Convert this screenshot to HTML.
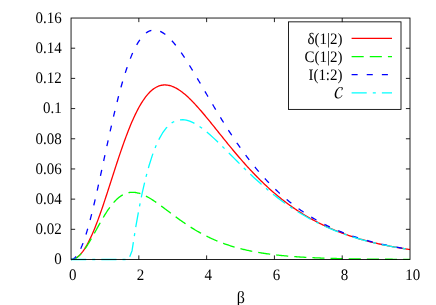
<!DOCTYPE html>
<html><head><meta charset="utf-8"><title>plot</title>
<style>
html,body{margin:0;padding:0;background:#fff;}
body{width:436px;height:305px;position:relative;overflow:hidden;font-family:"Liberation Serif",serif;}
.t text{font-family:"Liberation Serif",serif;text-rendering:geometricPrecision;}
svg{will-change:transform;}
</style></head><body>
<svg width="436" height="305" viewBox="0 0 436 305" style="position:absolute;left:0;top:0">
<g fill="none" stroke-width="1.3" stroke-linejoin="round">
<path d="M71.05,259.50 L71.90,259.46 L72.74,259.33 L73.59,259.12 L74.44,258.82 L75.29,258.44 L76.13,257.97 L76.98,257.42 L77.83,256.79 L78.68,256.08 L79.52,255.28 L80.37,254.40 L81.22,253.44 L82.07,252.40 L82.91,251.28 L83.76,250.09 L84.61,248.82 L85.46,247.47 L86.30,246.05 L87.15,244.56 L88.00,242.99 L88.84,241.36 L89.69,239.66 L90.54,237.89 L91.39,236.06 L92.23,234.17 L93.08,232.21 L93.93,230.20 L94.78,228.14 L95.62,226.02 L96.47,223.84 L97.32,221.62 L98.17,219.36 L99.01,217.05 L99.86,214.69 L100.71,212.30 L101.56,209.88 L102.40,207.42 L103.25,204.93 L104.10,202.41 L104.94,199.87 L105.79,197.31 L106.64,194.72 L107.49,192.13 L108.33,189.51 L109.18,186.89 L110.03,184.26 L110.88,181.63 L111.72,178.99 L112.57,176.36 L113.42,173.72 L114.27,171.10 L115.11,168.48 L115.96,165.88 L116.81,163.29 L117.66,160.71 L118.50,158.16 L119.35,155.62 L120.20,153.12 L121.05,150.63 L121.89,148.18 L122.74,145.75 L123.59,143.36 L124.43,141.00 L125.28,138.68 L126.13,136.39 L126.98,134.15 L127.82,131.94 L128.67,129.78 L129.52,127.66 L130.37,125.59 L131.21,123.56 L132.06,121.58 L132.91,119.65 L133.76,117.77 L134.60,115.93 L135.45,114.15 L136.30,112.42 L137.15,110.75 L137.99,109.12 L138.84,107.55 L139.69,106.04 L140.53,104.57 L141.38,103.17 L142.23,101.81 L143.08,100.51 L143.92,99.27 L144.77,98.08 L145.62,96.94 L146.47,95.86 L147.31,94.84 L148.16,93.86 L149.01,92.94 L149.86,92.08 L150.70,91.26 L151.55,90.50 L152.40,89.79 L153.25,89.13 L154.09,88.53 L154.94,87.97 L155.79,87.46 L156.63,87.00 L157.48,86.59 L158.33,86.23 L159.18,85.92 L160.02,85.65 L160.87,85.42 L161.72,85.24 L162.57,85.11 L163.41,85.01 L164.26,84.96 L165.11,84.95 L165.96,84.98 L166.80,85.05 L167.65,85.16 L168.50,85.31 L169.35,85.49 L170.19,85.71 L171.04,85.96 L171.89,86.25 L172.73,86.58 L173.58,86.93 L174.43,87.32 L175.28,87.73 L176.12,88.18 L176.97,88.66 L177.82,89.16 L178.67,89.69 L179.51,90.25 L180.36,90.83 L181.21,91.44 L182.06,92.07 L182.90,92.73 L183.75,93.41 L184.60,94.10 L185.45,94.82 L186.29,95.56 L187.14,96.32 L187.99,97.10 L188.84,97.90 L189.68,98.71 L190.53,99.54 L191.38,100.39 L192.22,101.25 L193.07,102.12 L193.92,103.01 L194.77,103.91 L195.61,104.82 L196.46,105.75 L197.31,106.69 L198.16,107.63 L199.00,108.59 L199.85,109.56 L200.70,110.53 L201.55,111.52 L202.39,112.51 L203.24,113.51 L204.09,114.51 L204.94,115.53 L205.78,116.55 L206.63,117.57 L207.48,118.60 L208.32,119.63 L209.17,120.67 L210.02,121.71 L210.87,122.75 L211.71,123.80 L212.56,124.85 L213.41,125.90 L214.26,126.96 L215.10,128.01 L215.95,129.07 L216.80,130.12 L217.65,131.18 L218.49,132.24 L219.34,133.29 L220.19,134.35 L221.04,135.40 L221.88,136.46 L222.73,137.51 L223.58,138.56 L224.42,139.61 L225.27,140.66 L226.12,141.71 L226.97,142.75 L227.81,143.79 L228.66,144.83 L229.51,145.86 L230.36,146.89 L231.20,147.92 L232.05,148.94 L232.90,149.96 L233.75,150.98 L234.59,151.99 L235.44,152.99 L236.29,154.00 L237.14,154.99 L237.98,155.99 L238.83,156.98 L239.68,157.96 L240.52,158.94 L241.37,159.91 L242.22,160.88 L243.07,161.84 L243.91,162.80 L244.76,163.75 L245.61,164.69 L246.46,165.63 L247.30,166.57 L248.15,167.50 L249.00,168.42 L249.85,169.33 L250.69,170.24 L251.54,171.15 L252.39,172.04 L253.24,172.94 L254.08,173.82 L254.93,174.70 L255.78,175.57 L256.63,176.44 L257.47,177.30 L258.32,178.15 L259.17,179.00 L260.01,179.84 L260.86,180.67 L261.71,181.50 L262.56,182.32 L263.40,183.14 L264.25,183.94 L265.10,184.74 L265.95,185.54 L266.79,186.33 L267.64,187.11 L268.49,187.88 L269.34,188.65 L270.18,189.41 L271.03,190.17 L271.88,190.92 L272.73,191.66 L273.57,192.39 L274.42,193.12 L275.27,193.85 L276.11,194.56 L276.96,195.27 L277.81,195.98 L278.66,196.67 L279.50,197.36 L280.35,198.05 L281.20,198.72 L282.05,199.40 L282.89,200.06 L283.74,200.72 L284.59,201.37 L285.44,202.02 L286.28,202.66 L287.13,203.29 L287.98,203.92 L288.83,204.54 L289.67,205.16 L290.52,205.77 L291.37,206.37 L292.21,206.97 L293.06,207.56 L293.91,208.15 L294.76,208.73 L295.60,209.30 L296.45,209.87 L297.30,210.44 L298.15,210.99 L298.99,211.54 L299.84,212.09 L300.69,212.63 L301.54,213.17 L302.38,213.70 L303.23,214.22 L304.08,214.74 L304.93,215.25 L305.77,215.76 L306.62,216.26 L307.47,216.76 L308.31,217.25 L309.16,217.74 L310.01,218.22 L310.86,218.70 L311.70,219.17 L312.55,219.64 L313.40,220.10 L314.25,220.55 L315.09,221.01 L315.94,221.45 L316.79,221.90 L317.64,222.33 L318.48,222.77 L319.33,223.19 L320.18,223.62 L321.03,224.04 L321.87,224.45 L322.72,224.86 L323.57,225.27 L324.42,225.67 L325.26,226.06 L326.11,226.46 L326.96,226.84 L327.80,227.23 L328.65,227.61 L329.50,227.98 L330.35,228.35 L331.19,228.72 L332.04,229.08 L332.89,229.44 L333.74,229.80 L334.58,230.15 L335.43,230.49 L336.28,230.84 L337.13,231.18 L337.97,231.51 L338.82,231.84 L339.67,232.17 L340.52,232.49 L341.36,232.82 L342.21,233.13 L343.06,233.45 L343.90,233.76 L344.75,234.06 L345.60,234.36 L346.45,234.66 L347.29,234.96 L348.14,235.25 L348.99,235.54 L349.84,235.83 L350.68,236.11 L351.53,236.39 L352.38,236.67 L353.23,236.94 L354.07,237.21 L354.92,237.47 L355.77,237.74 L356.62,238.00 L357.46,238.26 L358.31,238.51 L359.16,238.76 L360.00,239.01 L360.85,239.26 L361.70,239.50 L362.55,239.74 L363.39,239.98 L364.24,240.21 L365.09,240.45 L365.94,240.67 L366.78,240.90 L367.63,241.13 L368.48,241.35 L369.33,241.57 L370.17,241.78 L371.02,242.00 L371.87,242.21 L372.72,242.42 L373.56,242.62 L374.41,242.83 L375.26,243.03 L376.10,243.23 L376.95,243.42 L377.80,243.62 L378.65,243.81 L379.49,244.00 L380.34,244.19 L381.19,244.37 L382.04,244.56 L382.88,244.74 L383.73,244.92 L384.58,245.09 L385.43,245.27 L386.27,245.44 L387.12,245.61 L387.97,245.78 L388.82,245.95 L389.66,246.11 L390.51,246.27 L391.36,246.43 L392.21,246.59 L393.05,246.75 L393.90,246.90 L394.75,247.06 L395.59,247.21 L396.44,247.36 L397.29,247.51 L398.14,247.65 L398.98,247.80 L399.83,247.94 L400.68,248.08 L401.53,248.22 L402.37,248.36 L403.22,248.49 L404.07,248.63 L404.92,248.76 L405.76,248.89 L406.61,249.02 L407.46,249.15 L408.31,249.27 L409.15,249.40 L410.00,249.52" stroke="#ff0000"/>
<path d="M71.05,259.50 L71.90,259.46 L72.74,259.33 L73.59,259.12 L74.44,258.82 L75.29,258.44 L76.13,257.98 L76.98,257.44 L77.83,256.83 L78.68,256.13 L79.52,255.36 L80.37,254.52 L81.22,253.62 L82.07,252.64 L82.91,251.61 L83.76,250.51 L84.61,249.36 L85.46,248.15 L86.30,246.90 L87.15,245.60 L88.00,244.26 L88.84,242.88 L89.69,241.47 L90.54,240.03 L91.39,238.56 L92.23,237.08 L93.08,235.57 L93.93,234.05 L94.78,232.52 L95.62,230.99 L96.47,229.45 L97.32,227.91 L98.17,226.38 L99.01,224.85 L99.86,223.34 L100.71,221.84 L101.56,220.36 L102.40,218.90 L103.25,217.47 L104.10,216.06 L104.94,214.67 L105.79,213.32 L106.64,212.00 L107.49,210.72 L108.33,209.47 L109.18,208.26 L110.03,207.09 L110.88,205.96 L111.72,204.87 L112.57,203.83 L113.42,202.83 L114.27,201.87 L115.11,200.96 L115.96,200.10 L116.81,199.28 L117.66,198.51 L118.50,197.79 L119.35,197.11 L120.20,196.48 L121.05,195.90 L121.89,195.36 L122.74,194.87 L123.59,194.42 L124.43,194.02 L125.28,193.66 L126.13,193.35 L126.98,193.07 L127.82,192.84 L128.67,192.66 L129.52,192.51 L130.37,192.40 L131.21,192.33 L132.06,192.29 L132.91,192.29 L133.76,192.33 L134.60,192.40 L135.45,192.51 L136.30,192.64 L137.15,192.81 L137.99,193.01 L138.84,193.23 L139.69,193.48 L140.53,193.76 L141.38,194.07 L142.23,194.40 L143.08,194.75 L143.92,195.12 L144.77,195.52 L145.62,195.93 L146.47,196.36 L147.31,196.82 L148.16,197.28 L149.01,197.77 L149.86,198.27 L150.70,198.78 L151.55,199.31 L152.40,199.85 L153.25,200.40 L154.09,200.96 L154.94,201.53 L155.79,202.11 L156.63,202.70 L157.48,203.30 L158.33,203.90 L159.18,204.51 L160.02,205.13 L160.87,205.75 L161.72,206.37 L162.57,207.00 L163.41,207.63 L164.26,208.26 L165.11,208.90 L165.96,209.53 L166.80,210.17 L167.65,210.81 L168.50,211.45 L169.35,212.09 L170.19,212.73 L171.04,213.36 L171.89,214.00 L172.73,214.63 L173.58,215.26 L174.43,215.89 L175.28,216.52 L176.12,217.14 L176.97,217.76 L177.82,218.38 L178.67,218.99 L179.51,219.60 L180.36,220.20 L181.21,220.80 L182.06,221.40 L182.90,221.99 L183.75,222.57 L184.60,223.15 L185.45,223.73 L186.29,224.30 L187.14,224.86 L187.99,225.42 L188.84,225.98 L189.68,226.52 L190.53,227.07 L191.38,227.60 L192.22,228.13 L193.07,228.66 L193.92,229.17 L194.77,229.69 L195.61,230.19 L196.46,230.69 L197.31,231.19 L198.16,231.67 L199.00,232.15 L199.85,232.63 L200.70,233.10 L201.55,233.56 L202.39,234.01 L203.24,234.46 L204.09,234.91 L204.94,235.34 L205.78,235.78 L206.63,236.20 L207.48,236.62 L208.32,237.03 L209.17,237.44 L210.02,237.84 L210.87,238.23 L211.71,238.62 L212.56,239.01 L213.41,239.38 L214.26,239.75 L215.10,240.12 L215.95,240.48 L216.80,240.83 L217.65,241.18 L218.49,241.52 L219.34,241.86 L220.19,242.19 L221.04,242.52 L221.88,242.84 L222.73,243.15 L223.58,243.46 L224.42,243.77 L225.27,244.07 L226.12,244.37 L226.97,244.66 L227.81,244.94 L228.66,245.22 L229.51,245.50 L230.36,245.77 L231.20,246.03 L232.05,246.29 L232.90,246.55 L233.75,246.80 L234.59,247.05 L235.44,247.29 L236.29,247.53 L237.14,247.77 L237.98,248.00 L238.83,248.23 L239.68,248.45 L240.52,248.67 L241.37,248.88 L242.22,249.09 L243.07,249.30 L243.91,249.50 L244.76,249.70 L245.61,249.90 L246.46,250.09 L247.30,250.28 L248.15,250.46 L249.00,250.64 L249.85,250.82 L250.69,250.99 L251.54,251.17 L252.39,251.33 L253.24,251.50 L254.08,251.66 L254.93,251.82 L255.78,251.98 L256.63,252.13 L257.47,252.28 L258.32,252.43 L259.17,252.57 L260.01,252.71 L260.86,252.85 L261.71,252.99 L262.56,253.12 L263.40,253.25 L264.25,253.38 L265.10,253.50 L265.95,253.63 L266.79,253.75 L267.64,253.87 L268.49,253.98 L269.34,254.10 L270.18,254.21 L271.03,254.32 L271.88,254.43 L272.73,254.53 L273.57,254.63 L274.42,254.74 L275.27,254.84 L276.11,254.93 L276.96,255.03 L277.81,255.12 L278.66,255.21 L279.50,255.30 L280.35,255.39 L281.20,255.48 L282.05,255.56 L282.89,255.64 L283.74,255.72 L284.59,255.80 L285.44,255.88 L286.28,255.96 L287.13,256.03 L287.98,256.10 L288.83,256.18 L289.67,256.25 L290.52,256.32 L291.37,256.38 L292.21,256.45 L293.06,256.51 L293.91,256.58 L294.76,256.64 L295.60,256.70 L296.45,256.76 L297.30,256.82 L298.15,256.87 L298.99,256.93 L299.84,256.98 L300.69,257.04 L301.54,257.09 L302.38,257.14 L303.23,257.19 L304.08,257.24 L304.93,257.29 L305.77,257.34 L306.62,257.38 L307.47,257.43 L308.31,257.47 L309.16,257.52 L310.01,257.56 L310.86,257.60 L311.70,257.64 L312.55,257.68 L313.40,257.72 L314.25,257.76 L315.09,257.80 L315.94,257.83 L316.79,257.87 L317.64,257.90 L318.48,257.94 L319.33,257.97 L320.18,258.01 L321.03,258.04 L321.87,258.07 L322.72,258.10 L323.57,258.13 L324.42,258.16 L325.26,258.19 L326.11,258.22 L326.96,258.25 L327.80,258.27 L328.65,258.30 L329.50,258.33 L330.35,258.35 L331.19,258.38 L332.04,258.40 L332.89,258.42 L333.74,258.45 L334.58,258.47 L335.43,258.49 L336.28,258.52 L337.13,258.54 L337.97,258.56 L338.82,258.58 L339.67,258.60 L340.52,258.62 L341.36,258.64 L342.21,258.66 L343.06,258.68 L343.90,258.69 L344.75,258.71 L345.60,258.73 L346.45,258.75 L347.29,258.76 L348.14,258.78 L348.99,258.79 L349.84,258.81 L350.68,258.82 L351.53,258.84 L352.38,258.85 L353.23,258.87 L354.07,258.88 L354.92,258.90 L355.77,258.91 L356.62,258.92 L357.46,258.93 L358.31,258.95 L359.16,258.96 L360.00,258.97 L360.85,258.98 L361.70,258.99 L362.55,259.01 L363.39,259.02 L364.24,259.03 L365.09,259.04 L365.94,259.05 L366.78,259.06 L367.63,259.07 L368.48,259.08 L369.33,259.09 L370.17,259.10 L371.02,259.10 L371.87,259.11 L372.72,259.12 L373.56,259.13 L374.41,259.14 L375.26,259.15 L376.10,259.15 L376.95,259.16 L377.80,259.17 L378.65,259.18 L379.49,259.18 L380.34,259.19 L381.19,259.20 L382.04,259.20 L382.88,259.21 L383.73,259.22 L384.58,259.22 L385.43,259.23 L386.27,259.24 L387.12,259.24 L387.97,259.25 L388.82,259.25 L389.66,259.26 L390.51,259.26 L391.36,259.27 L392.21,259.27 L393.05,259.28 L393.90,259.28 L394.75,259.29 L395.59,259.29 L396.44,259.30 L397.29,259.30 L398.14,259.31 L398.98,259.31 L399.83,259.32 L400.68,259.32 L401.53,259.32 L402.37,259.33 L403.22,259.33 L404.07,259.34 L404.92,259.34 L405.76,259.34 L406.61,259.35 L407.46,259.35 L408.31,259.35 L409.15,259.36 L410.00,259.36" stroke="#00ff00" stroke-dasharray="12.11,6.05"/>
<path d="M71.05,259.50 L71.90,259.41 L72.74,259.16 L73.59,258.74 L74.44,258.14 L75.29,257.38 L76.13,256.46 L76.98,255.37 L77.83,254.12 L78.68,252.71 L79.52,251.14 L80.37,249.42 L81.22,247.56 L82.07,245.54 L82.91,243.39 L83.76,241.10 L84.61,238.68 L85.46,236.12 L86.30,233.45 L87.15,230.66 L88.00,227.75 L88.84,224.74 L89.69,221.63 L90.54,218.42 L91.39,215.13 L92.23,211.74 L93.08,208.29 L93.93,204.75 L94.78,201.16 L95.62,197.50 L96.47,193.79 L97.32,190.03 L98.17,186.23 L99.01,182.40 L99.86,178.54 L100.71,174.65 L101.56,170.74 L102.40,166.82 L103.25,162.89 L104.10,158.97 L104.94,155.04 L105.79,151.13 L106.64,147.22 L107.49,143.34 L108.33,139.48 L109.18,135.65 L110.03,131.85 L110.88,128.09 L111.72,124.36 L112.57,120.68 L113.42,117.05 L114.27,113.47 L115.11,109.95 L115.96,106.48 L116.81,103.07 L117.66,99.73 L118.50,96.45 L119.35,93.24 L120.20,90.10 L121.05,87.03 L121.89,84.04 L122.74,81.12 L123.59,78.28 L124.43,75.52 L125.28,72.84 L126.13,70.24 L126.98,67.72 L127.82,65.29 L128.67,62.93 L129.52,60.67 L130.37,58.48 L131.21,56.38 L132.06,54.37 L132.91,52.44 L133.76,50.60 L134.60,48.84 L135.45,47.16 L136.30,45.57 L137.15,44.06 L137.99,42.63 L138.84,41.28 L139.69,40.02 L140.53,38.84 L141.38,37.73 L142.23,36.71 L143.08,35.76 L143.92,34.89 L144.77,34.09 L145.62,33.37 L146.47,32.73 L147.31,32.15 L148.16,31.65 L149.01,31.21 L149.86,30.84 L150.70,30.54 L151.55,30.31 L152.40,30.14 L153.25,30.03 L154.09,29.99 L154.94,30.00 L155.79,30.08 L156.63,30.21 L157.48,30.39 L158.33,30.63 L159.18,30.93 L160.02,31.27 L160.87,31.67 L161.72,32.11 L162.57,32.60 L163.41,33.14 L164.26,33.72 L165.11,34.35 L165.96,35.02 L166.80,35.72 L167.65,36.47 L168.50,37.26 L169.35,38.08 L170.19,38.94 L171.04,39.83 L171.89,40.75 L172.73,41.71 L173.58,42.69 L174.43,43.71 L175.28,44.75 L176.12,45.82 L176.97,46.92 L177.82,48.04 L178.67,49.18 L179.51,50.35 L180.36,51.53 L181.21,52.74 L182.06,53.97 L182.90,55.22 L183.75,56.48 L184.60,57.76 L185.45,59.05 L186.29,60.36 L187.14,61.69 L187.99,63.03 L188.84,64.38 L189.68,65.74 L190.53,67.11 L191.38,68.49 L192.22,69.88 L193.07,71.28 L193.92,72.68 L194.77,74.10 L195.61,75.52 L196.46,76.94 L197.31,78.37 L198.16,79.81 L199.00,81.24 L199.85,82.68 L200.70,84.13 L201.55,85.58 L202.39,87.02 L203.24,88.47 L204.09,89.92 L204.94,91.37 L205.78,92.82 L206.63,94.27 L207.48,95.72 L208.32,97.16 L209.17,98.61 L210.02,100.05 L210.87,101.49 L211.71,102.92 L212.56,104.36 L213.41,105.78 L214.26,107.21 L215.10,108.63 L215.95,110.04 L216.80,111.45 L217.65,112.86 L218.49,114.26 L219.34,115.65 L220.19,117.04 L221.04,118.42 L221.88,119.80 L222.73,121.17 L223.58,122.53 L224.42,123.88 L225.27,125.23 L226.12,126.57 L226.97,127.90 L227.81,129.23 L228.66,130.55 L229.51,131.86 L230.36,133.16 L231.20,134.45 L232.05,135.73 L232.90,137.01 L233.75,138.28 L234.59,139.54 L235.44,140.79 L236.29,142.03 L237.14,143.26 L237.98,144.49 L238.83,145.70 L239.68,146.91 L240.52,148.10 L241.37,149.29 L242.22,150.47 L243.07,151.64 L243.91,152.80 L244.76,153.95 L245.61,155.09 L246.46,156.22 L247.30,157.34 L248.15,158.46 L249.00,159.56 L249.85,160.65 L250.69,161.74 L251.54,162.81 L252.39,163.88 L253.24,164.94 L254.08,165.98 L254.93,167.02 L255.78,168.05 L256.63,169.07 L257.47,170.08 L258.32,171.08 L259.17,172.07 L260.01,173.05 L260.86,174.02 L261.71,174.99 L262.56,175.94 L263.40,176.89 L264.25,177.82 L265.10,178.75 L265.95,179.67 L266.79,180.58 L267.64,181.48 L268.49,182.37 L269.34,183.25 L270.18,184.12 L271.03,184.99 L271.88,185.84 L272.73,186.69 L273.57,187.53 L274.42,188.36 L275.27,189.18 L276.11,189.99 L276.96,190.80 L277.81,191.60 L278.66,192.38 L279.50,193.16 L280.35,193.94 L281.20,194.70 L282.05,195.46 L282.89,196.20 L283.74,196.94 L284.59,197.68 L285.44,198.40 L286.28,199.12 L287.13,199.82 L287.98,200.53 L288.83,201.22 L289.67,201.91 L290.52,202.58 L291.37,203.26 L292.21,203.92 L293.06,204.58 L293.91,205.23 L294.76,205.87 L295.60,206.50 L296.45,207.13 L297.30,207.75 L298.15,208.37 L298.99,208.97 L299.84,209.58 L300.69,210.17 L301.54,210.76 L302.38,211.34 L303.23,211.91 L304.08,212.48 L304.93,213.04 L305.77,213.60 L306.62,214.15 L307.47,214.69 L308.31,215.22 L309.16,215.76 L310.01,216.28 L310.86,216.80 L311.70,217.31 L312.55,217.82 L313.40,218.32 L314.25,218.81 L315.09,219.30 L315.94,219.79 L316.79,220.26 L317.64,220.74 L318.48,221.20 L319.33,221.67 L320.18,222.12 L321.03,222.57 L321.87,223.02 L322.72,223.46 L323.57,223.90 L324.42,224.33 L325.26,224.75 L326.11,225.17 L326.96,225.59 L327.80,226.00 L328.65,226.41 L329.50,226.81 L330.35,227.20 L331.19,227.60 L332.04,227.98 L332.89,228.37 L333.74,228.74 L334.58,229.12 L335.43,229.49 L336.28,229.85 L337.13,230.21 L337.97,230.57 L338.82,230.92 L339.67,231.27 L340.52,231.61 L341.36,231.95 L342.21,232.29 L343.06,232.62 L343.90,232.95 L344.75,233.27 L345.60,233.59 L346.45,233.91 L347.29,234.22 L348.14,234.53 L348.99,234.83 L349.84,235.14 L350.68,235.43 L351.53,235.73 L352.38,236.02 L353.23,236.31 L354.07,236.59 L354.92,236.87 L355.77,237.15 L356.62,237.42 L357.46,237.69 L358.31,237.96 L359.16,238.22 L360.00,238.48 L360.85,238.74 L361.70,239.00 L362.55,239.25 L363.39,239.50 L364.24,239.74 L365.09,239.98 L365.94,240.22 L366.78,240.46 L367.63,240.69 L368.48,240.92 L369.33,241.15 L370.17,241.38 L371.02,241.60 L371.87,241.82 L372.72,242.04 L373.56,242.25 L374.41,242.46 L375.26,242.67 L376.10,242.88 L376.95,243.08 L377.80,243.29 L378.65,243.49 L379.49,243.68 L380.34,243.88 L381.19,244.07 L382.04,244.26 L382.88,244.45 L383.73,244.63 L384.58,244.82 L385.43,245.00 L386.27,245.18 L387.12,245.35 L387.97,245.53 L388.82,245.70 L389.66,245.87 L390.51,246.04 L391.36,246.20 L392.21,246.37 L393.05,246.53 L393.90,246.69 L394.75,246.85 L395.59,247.00 L396.44,247.16 L397.29,247.31 L398.14,247.46 L398.98,247.61 L399.83,247.75 L400.68,247.90 L401.53,248.04 L402.37,248.18 L403.22,248.32 L404.07,248.46 L404.92,248.60 L405.76,248.73 L406.61,248.87 L407.46,249.00 L408.31,249.13 L409.15,249.26 L410.00,249.38" stroke="#0000ff" stroke-dasharray="6.05,9.08"/>
<path d="M71.05,259.50 L74.44,259.50 L77.83,259.50 L81.22,259.50 L84.61,259.50 L88.00,259.50 L91.39,259.50 L94.78,259.50 L98.17,259.50 L101.56,259.50 L104.94,259.50 L108.33,259.50 L111.72,259.50 L115.11,259.50 L118.50,259.50 L121.89,259.50 L125.28,259.50 L128.67,259.50 L132.06,250.69 L135.45,228.88 L138.84,209.66 L142.23,192.85 L145.62,178.27 L149.01,165.76 L152.40,155.14 L155.79,146.24 L159.18,138.91 L162.57,132.98 L165.96,128.32 L169.35,124.79 L172.73,122.28 L176.12,120.66 L179.51,119.84 L182.90,119.71 L186.29,120.19 L189.68,121.19 L193.07,122.66 L196.46,124.52 L199.85,126.72 L203.24,129.19 L206.63,131.91 L210.02,134.81 L213.41,137.87 L216.80,141.05 L220.19,144.32 L223.58,147.66 L226.97,151.05 L230.36,154.45 L233.75,157.86 L237.14,161.26 L240.52,164.63 L243.91,167.97 L247.30,171.27 L250.69,174.51 L254.08,177.69 L257.47,180.80 L260.86,183.85 L264.25,186.81 L267.64,189.70 L271.03,192.51 L274.42,195.24 L277.81,197.88 L281.20,200.44 L284.59,202.92 L287.98,205.31 L291.37,207.62 L294.76,209.85 L298.15,212.00 L301.54,214.07 L304.93,216.06 L308.31,217.98 L311.70,219.82 L315.09,221.58 L318.48,223.28 L321.87,224.91 L325.26,226.47 L328.65,227.97 L332.04,229.41 L335.43,230.78 L338.82,232.10 L342.21,233.36 L345.60,234.57 L348.99,235.72 L352.38,236.82 L355.77,237.88 L359.16,238.89 L362.55,239.85 L365.94,240.77 L369.33,241.65 L372.72,242.49 L376.10,243.29 L379.49,244.05 L382.88,244.78 L386.27,245.48 L389.66,246.15 L393.05,246.78 L396.44,247.38 L399.83,247.96 L403.22,248.51 L406.61,249.04 L410.00,249.54" stroke="#00ffff" stroke-dasharray="15.14,6.05,3.03,6.05"/>
</g>
<g fill="none" stroke="#000" stroke-width="0.87">
<rect x="71.05" y="18.03" width="338.95" height="241.47"/>
<path d="M71.05,229.32h4.1 M410.0,229.32h-4.1"/>
<path d="M71.05,199.13h4.1 M410.0,199.13h-4.1"/>
<path d="M71.05,168.95h4.1 M410.0,168.95h-4.1"/>
<path d="M71.05,138.77h4.1 M410.0,138.77h-4.1"/>
<path d="M71.05,108.58h4.1 M410.0,108.58h-4.1"/>
<path d="M71.05,78.40h4.1 M410.0,78.40h-4.1"/>
<path d="M71.05,48.21h4.1 M410.0,48.21h-4.1"/>
<path d="M138.84,259.5v-4.1 M138.84,18.03v4.1"/>
<path d="M206.63,259.5v-4.1 M206.63,18.03v4.1"/>
<path d="M274.42,259.5v-4.1 M274.42,18.03v4.1"/>
<path d="M342.21,259.5v-4.1 M342.21,18.03v4.1"/>
</g>
<rect x="288.5" y="21.85" width="112.5" height="87.55000000000001" fill="none" stroke="#000" stroke-width="0.87"/>
<g fill="none" stroke-width="1.3">
<path d="M351.6,38.45H392.0" stroke="#ff0000"/>
<path d="M351.6,56.55H392.0" stroke="#00ff00" stroke-dasharray="12.11,6.05"/>
<path d="M351.6,74.7H392.0" stroke="#0000ff" stroke-dasharray="6.05,9.08"/>
<path d="M351.6,92.8H392.0" stroke="#00ffff" stroke-dasharray="15.14,6.05,3.03,6.05"/>
</g>
<g class="t" font-size="16.0" fill="#000">
<text transform="translate(61.80,264.35) scale(0.935,1)" text-anchor="end">0</text>
<text transform="translate(61.80,234.17) scale(0.935,1)" text-anchor="end">0.02</text>
<text transform="translate(61.80,203.98) scale(0.935,1)" text-anchor="end">0.04</text>
<text transform="translate(61.80,173.80) scale(0.935,1)" text-anchor="end">0.06</text>
<text transform="translate(61.80,143.62) scale(0.935,1)" text-anchor="end">0.08</text>
<text transform="translate(61.80,113.43) scale(0.935,1)" text-anchor="end">0.1</text>
<text transform="translate(61.80,83.25) scale(0.935,1)" text-anchor="end">0.12</text>
<text transform="translate(61.80,53.06) scale(0.935,1)" text-anchor="end">0.14</text>
<text transform="translate(61.80,22.88) scale(0.935,1)" text-anchor="end">0.16</text>
<text transform="translate(72.65,279.80) scale(0.935,1)" text-anchor="middle">0</text>
<text transform="translate(140.44,279.80) scale(0.935,1)" text-anchor="middle">2</text>
<text transform="translate(208.23,279.80) scale(0.935,1)" text-anchor="middle">4</text>
<text transform="translate(276.42,279.80) scale(0.935,1)" text-anchor="middle">6</text>
<text transform="translate(344.51,279.80) scale(0.935,1)" text-anchor="middle">8</text>
<text transform="translate(412.80,279.80) scale(0.935,1)" text-anchor="middle">10</text>
<text transform="translate(240.90,303.30) scale(0.935,1)" text-anchor="middle" font-size="17.2">β</text>
<text transform="translate(342.50,43.65) scale(0.935,1)" text-anchor="end">δ(1|2)</text>
<text transform="translate(342.50,61.75) scale(0.935,1)" text-anchor="end">C(1|2)</text>
<text transform="translate(342.50,79.90) scale(0.935,1)" text-anchor="end">I(1:2)</text>
</g>
<path d="M342.78,87.84 C342.37,87.02 341.27,86.88 340.30,87.02 C337.55,87.43 334.94,91.01 334.66,94.59 C334.45,97.06 335.90,98.58 337.96,98.58 C340.03,98.58 341.54,97.06 342.44,95.28 L342.02,95.07 C341.13,96.51 339.89,97.75 338.51,97.75 C336.86,97.75 336.11,96.38 336.24,94.45 C336.52,91.35 338.38,87.98 340.44,87.57 C341.27,87.43 341.89,87.84 341.75,88.81 C341.61,89.50 341.40,90.18 341.68,90.39 C342.16,90.53 343.06,88.94 342.78,87.84Z" fill="#000"/>
</svg>
</body></html>
